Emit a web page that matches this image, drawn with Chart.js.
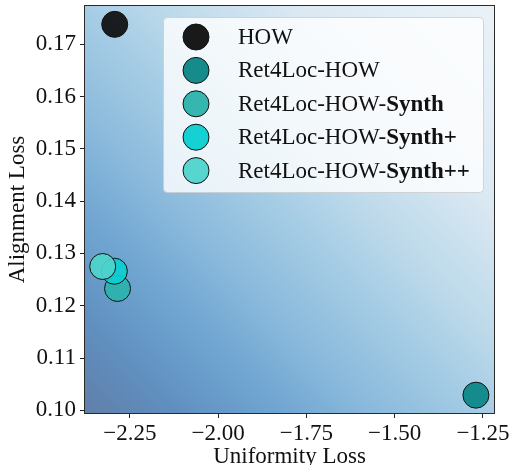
<!DOCTYPE html>
<html>
<head>
<meta charset="utf-8">
<script src="https://cdn.jsdelivr.net/npm/chart.js@4.4.1/dist/chart.umd.min.js"></script>
<style>
    html, body { margin: 0; padding: 0; background: #fff; }
    #wrap { width: 516px; height: 465px; }
</style>
</head>
<body>
<div id="wrap"><canvas id="lossChart" width="516" height="465"></canvas></div>
<script>
const methodNames = ['HOW', 'Ret4Loc-HOW', 'Ret4Loc-HOW-', 'Ret4Loc-HOW-', 'Ret4Loc-HOW-'];
const methodBold = ['', '', 'Synth', 'Synth+', 'Synth++'];
const uniformityLoss = [-2.293, -1.270, -2.285, -2.294, -2.327];
const alignmentLoss = [0.1738, 0.1029, 0.1233, 0.1266, 0.1275];
const pointColors = ['#0d0d0d', '#088585', '#2ab3ac', '#0bcfd2', '#4fd4cc'];
const xTicks = [-2.25, -2.00, -1.75, -1.50, -1.25];
const yTicks = [0.10, 0.11, 0.12, 0.13, 0.14, 0.15, 0.16, 0.17];

const FONT = '"Liberation Serif", "DejaVu Serif", serif';
const FONT_SIZE = 23;

function fmtTick(v) {
    const s = Math.abs(v).toFixed(2);
    return v < 0 ? '\u2212' + s : s;
}

const backgroundPlugin = {
    id: 'gradientBg',
    beforeDraw(chart) {
        const { ctx, chartArea: a } = chart;
        ctx.save();
        ctx.fillStyle = '#fff';
        ctx.fillRect(0, 0, chart.width, chart.height);
        const g = ctx.createLinearGradient(a.left, a.bottom, a.right, a.top);
        g.addColorStop(0.00, '#617ea8');
        g.addColorStop(0.12, '#6090c0');
        g.addColorStop(0.24, '#70a5d1');
        g.addColorStop(0.36, '#8bbadc');
        g.addColorStop(0.49, '#a5cce5');
        g.addColorStop(0.59, '#bcd9ea');
        g.addColorStop(0.76, '#dce9f3');
        g.addColorStop(1.00, '#eaf2f8');
        ctx.fillStyle = g;
        ctx.fillRect(a.left, a.top, a.right - a.left, a.bottom - a.top);
        ctx.restore();
    },
    afterDraw(chart) {
        const { ctx, chartArea: a } = chart;
        ctx.save();
        // frame
        ctx.strokeStyle = '#2a2a2a';
        ctx.lineWidth = 1;
        ctx.strokeRect(a.left + 0.5, a.top + 0.5, a.right - a.left - 1, a.bottom - a.top - 1);

        // axis titles
        ctx.fillStyle = '#111';
        ctx.font = `${FONT_SIZE}px ${FONT}`;
        ctx.textAlign = 'center';
        ctx.textBaseline = 'alphabetic';
        ctx.fillText('Uniformity Loss', (a.left + a.right) / 2, 463);
        ctx.translate(24, (a.top + a.bottom) / 2);
        ctx.rotate(-Math.PI / 2);
        ctx.fillText('Alignment Loss', 0, 0);
        ctx.restore();

        // legend
        ctx.save();
        const bx = 163, by = 17, bw = 320, bh = 175;
        ctx.beginPath();
        ctx.roundRect(bx + 0.5, by + 0.5, bw, bh, 4);
        ctx.fillStyle = 'rgba(255,255,255,0.8)';
        ctx.fill();
        ctx.strokeStyle = 'rgba(204,204,204,0.8)';
        ctx.lineWidth = 1;
        ctx.stroke();
        ctx.textBaseline = 'middle';
        ctx.textAlign = 'left';
        methodNames.forEach((name, i) => {
            const cy = 37 + i * 33.4;
            ctx.beginPath();
            ctx.arc(196, cy, 13, 0, Math.PI * 2);
            ctx.fillStyle = pointColors[i];
            ctx.globalAlpha = 0.95;
            ctx.fill();
            ctx.globalAlpha = 1;
            ctx.strokeStyle = '#111';
            ctx.stroke();
            ctx.fillStyle = '#111';
            ctx.font = `${FONT_SIZE}px ${FONT}`;
            ctx.fillText(name, 238, cy + 1);
            if (methodBold[i]) {
                const w = ctx.measureText(name).width;
                ctx.font = `bold ${FONT_SIZE}px ${FONT}`;
                ctx.fillText(methodBold[i], 238 + w, cy + 1);
            }
        });
        ctx.restore();
    }
};

const datasets = methodNames.map((name, i) => ({
    label: name + methodBold[i],
    data: [{ x: uniformityLoss[i], y: alignmentLoss[i] }],
    backgroundColor: pointColors[i] + 'eb',
    borderColor: '#111',
    borderWidth: 1,
    pointRadius: 13,
    pointHoverRadius: 13,
    order: methodNames.length - i,
}));

new Chart(document.getElementById('lossChart'), {
    type: 'scatter',
    data: { datasets },
    options: {
        responsive: false,
        animation: false,
        events: [],
        layout: { autoPadding: false, padding: { left: 0, right: 21, top: 5, bottom: 0 } },
        plugins: { legend: { display: false }, tooltip: { enabled: false } },
        scales: {
            x: {
                type: 'linear',
                min: -2.38,
                max: -1.216,
                afterBuildTicks: s => { s.ticks = xTicks.map(v => ({ value: v })); },
                afterFit: s => { s.height = 51; s.paddingLeft = 0; s.paddingRight = 0; },
                border: { display: false },
                grid: { drawOnChartArea: false, drawTicks: true, tickLength: 4, color: '#222' },
                ticks: {
                    color: '#111',
                    padding: 2,
                    maxRotation: 0,
                    font: { family: FONT, size: FONT_SIZE },
                    callback: v => fmtTick(v)
                }
            },
            y: {
                type: 'linear',
                min: 0.0993,
                max: 0.1775,
                afterBuildTicks: s => { s.ticks = yTicks.map(v => ({ value: v })); },
                afterFit: s => { s.width = 84; s.paddingTop = 0; s.paddingBottom = 0; },
                border: { display: false },
                grid: { drawOnChartArea: false, drawTicks: true, tickLength: 4, color: '#222' },
                ticks: {
                    color: '#111',
                    padding: 4,
                    font: { family: FONT, size: FONT_SIZE },
                    callback: v => fmtTick(v)
                }
            }
        }
    },
    plugins: [backgroundPlugin]
});
</script>
</body>
</html>
